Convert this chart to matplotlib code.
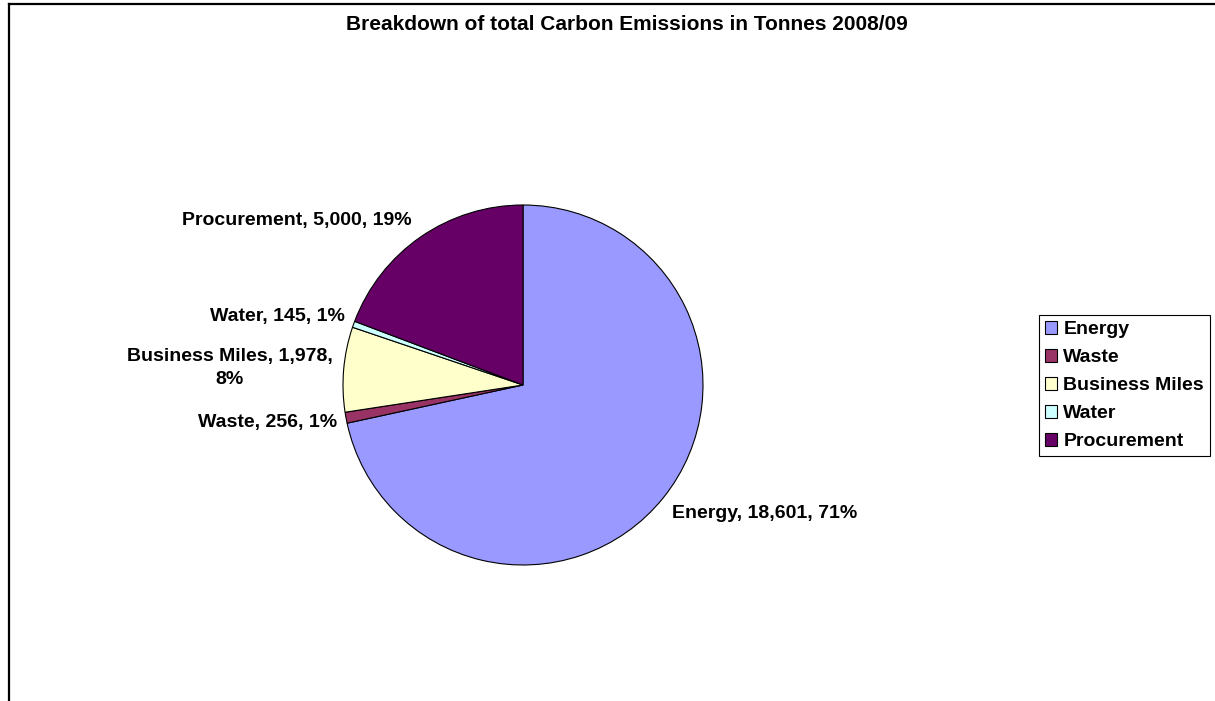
import matplotlib
matplotlib.use("Agg")
import matplotlib.pyplot as plt
from matplotlib.patches import Patch
from matplotlib.lines import Line2D

plt.rcParams['font.family'] = ['Liberation Sans', 'DejaVu Sans']

# ---- data ----
categories = ["Energy", "Waste", "Business Miles", "Water", "Procurement"]
values = [18601, 256, 1978, 145, 5000]
pct_labels = [71, 1, 8, 1, 19]
colors = ["#9999FF", "#993366", "#FFFFCC", "#CCFFFF", "#660066"]
title = "Breakdown of total Carbon Emissions in Tonnes 2008/09"

# ---- layout (pixel coordinates, y measured from top) ----
W, H = 1215, 701
pie_center = (523, 385)
pie_radius = 180
label_layout = {
    "Energy": dict(x=672, y=513, ha="left"),
    "Waste": dict(x=337, y=423, ha="right"),
    "Business Miles": dict(x=230, y=368, ha="center"),
    "Water": dict(x=345, y=317, ha="right"),
    "Procurement": dict(x=412, y=221, ha="right"),
}
FS = 14

fig = plt.figure(figsize=(W / 100, H / 100), dpi=100)
ax = fig.add_axes([0, 0, 1, 1])

wedges, _ = ax.pie(values, colors=colors, startangle=90, counterclock=False,
                   center=(pie_center[0], H - pie_center[1]), radius=pie_radius,
                   wedgeprops=dict(edgecolor="black", linewidth=0.8))
ax.set_xlim(0, W)
ax.set_ylim(0, H)
ax.set_aspect("auto")
ax.axis("off")

for cat, val, pct in zip(categories, values, pct_labels):
    lay = label_layout[cat]
    if cat == "Business Miles":
        txt = f"{cat}, {val:,},\n{pct}%"
    else:
        txt = f"{cat}, {val:,}, {pct}%"
    ax.text(lay["x"], H - lay["y"], txt, ha=lay["ha"], va="center",
            fontsize=FS, fontweight="bold", multialignment="center",
            linespacing=1.45)

# title
ax.text(627, H - 24, title, ha="center", va="center", fontsize=15,
        fontweight="bold")

# chart border (top and left visible)
ax.add_line(Line2D([8.5, W], [H - 4, H - 4], color="black", linewidth=1.6))
ax.add_line(Line2D([8.5, 8.5], [0, H - 4], color="black", linewidth=1.6))

# legend
handles = [Patch(facecolor=c, edgecolor="black", linewidth=0.8) for c in colors]
leg = fig.legend(handles, categories, loc="center left",
                 bbox_to_anchor=(1039 / W, 1 - 385.5 / H),
                 prop=dict(size=FS, weight="bold"), frameon=True,
                 fancybox=False, edgecolor="black", framealpha=1,
                 handlelength=0.65, handleheight=0.65, handletextpad=0.3,
                 labelspacing=0.55, borderpad=0.3, borderaxespad=0)
leg.get_frame().set_linewidth(0.8)

fig.savefig("out.png", dpi=100)
